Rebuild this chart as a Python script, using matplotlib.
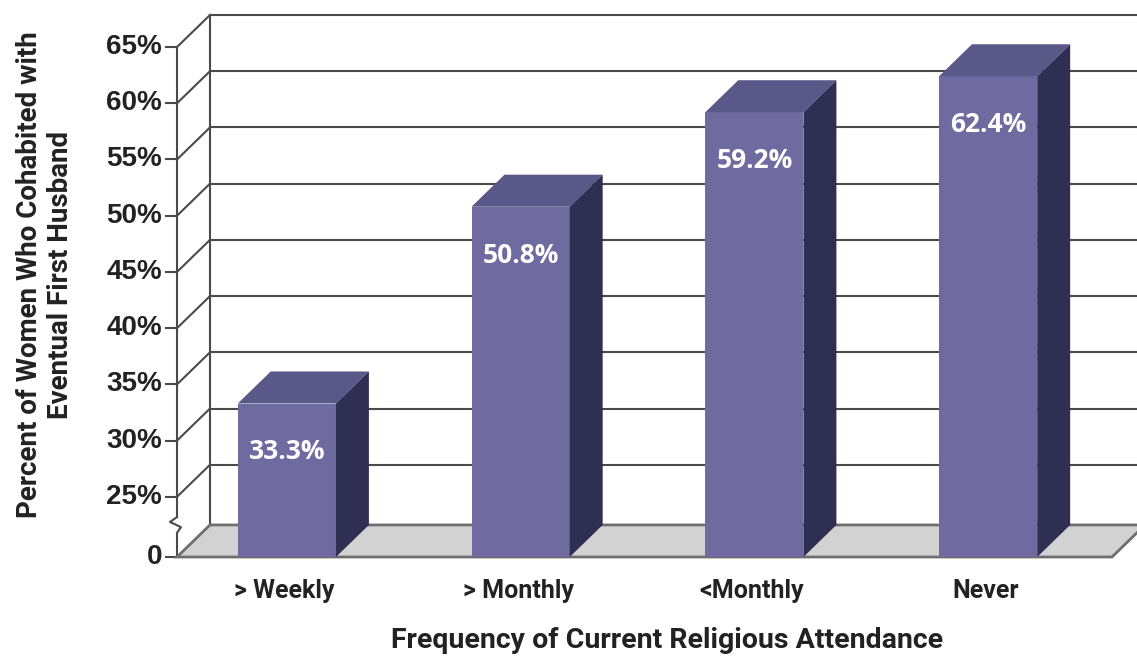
import matplotlib
matplotlib.use("Agg")
import matplotlib.pyplot as plt
from matplotlib.patches import Polygon

## data
categories = ["> Weekly", "> Monthly", "<Monthly", "Never"]
values = [33.3, 50.8, 59.2, 62.4]
tick_values = [25, 30, 35, 40, 45, 50, 55, 60, 65]
tick_labels = ["25%", "30%", "35%", "40%", "45%", "50%", "55%", "60%", "65%"]

## look of the fake 3d box
FLOOR = 19.65      # where the broken axis puts "0"
DX, DY = 0.141, 2.85   # depth offset (category units, percent units)
BAR_W = 0.42
FRONT = "#6f6aa0"
TOP = "#5a5888"
SIDE = "#2e2f52"
GRID = "#4a4a4a"
FLOOR_C = "#d2d2d2"

W, H = 1137, 657
fig = plt.figure(figsize=(W / 100, H / 100), dpi=100)
fig.patch.set_facecolor("white")
# axes box placed so that x=-0.5 sits on the front axis line
ax = fig.add_axes([177 / W, (H - 557) / H, 960 / W, 542 / H])
ax.set_xlim(-0.5, -0.5 + 960 / 233.75)
ax.set_ylim(FLOOR, 67.85)
ax.axis("off")

n = len(categories)
x0, x1 = -0.5, n - 0.5

# floor
floor = Polygon([(x0, FLOOR), (x1, FLOOR), (x1 + DX, FLOOR + DY), (x0 + DX, FLOOR + DY)],
                closed=True, facecolor=FLOOR_C, edgecolor="#6e6e6e", lw=2, zorder=1, clip_on=False)
ax.add_patch(floor)

# back wall grid + left side wall diagonals
for v in tick_values:
    ax.plot([x0 + DX, x1 + DX + 0.2], [v + DY, v + DY], color=GRID, lw=1.5, zorder=0.5, clip_on=False)
    ax.plot([x0, x0 + DX], [v, v + DY], color=GRID, lw=1.5, zorder=0.5, clip_on=False)
    ax.plot([x0 - 0.047, x0], [v, v], color=GRID, lw=1.5, zorder=0.5, clip_on=False)
ax.plot([x0 + DX, x0 + DX], [FLOOR + DY, tick_values[-1] + DY], color=GRID, lw=1.5, zorder=0.5, clip_on=False)
ax.plot([x0 - 0.047, x0], [FLOOR, FLOOR], color=GRID, lw=1.5, zorder=0.5, clip_on=False)

# front axis with the break zigzag
ax.plot([x0, x0], [tick_values[-1], 23.2], color=GRID, lw=1.5, zorder=0.5, clip_on=False)
ax.plot([x0, x0 - 0.03, x0 + 0.017, x0, x0], [23.2, 22.77, 22.3, 21.8, FLOOR],
        color=GRID, lw=1.5, zorder=0.5, clip_on=False)

# bars
for i, v in enumerate(values):
    c = i - 0.03
    l, r = c - BAR_W / 2, c + BAR_W / 2
    ax.add_patch(Polygon([(l, FLOOR), (r, FLOOR), (r, v), (l, v)],
                         facecolor=FRONT, edgecolor="none", zorder=3))
    ax.add_patch(Polygon([(l, v), (r, v), (r + DX, v + DY), (l + DX, v + DY)],
                         facecolor=TOP, edgecolor="none", zorder=3))
    ax.add_patch(Polygon([(r, FLOOR), (r + DX, FLOOR + DY), (r + DX, v + DY), (r, v)],
                         facecolor=SIDE, edgecolor="none", zorder=3, clip_on=False))
    ax.text(c, v - 4.3, f"{v:.1f}%", color="white", fontsize=19, fontweight="bold",
            family="Open Sans", ha="center", va="center", zorder=4)

# y tick labels
for v, lab in zip(tick_values, tick_labels):
    ax.text(x0 - 0.064, v, lab, ha="right", va="center", fontsize=20, fontweight="bold",
            family="Liberation Sans", color="#222222", clip_on=False)
ax.text(x0 - 0.064, FLOOR, "0", ha="right", va="center", fontsize=20, fontweight="bold",
        family="Liberation Sans", color="#222222", clip_on=False)

# category labels
narrow = ["Liberation Sans Narrow", "Roboto", "DejaVu Sans"]
for i, lab in enumerate(categories):
    ax.text(i - 0.04, FLOOR - 3.0, lab, ha="center", va="center", fontsize=18,
            fontweight="bold", family=narrow, color="#222222", clip_on=False)

fig.text(667 / W, 1 - 640 / H, "Frequency of Current Religious Attendance", ha="center",
         va="center", fontsize=20.5, fontweight="bold", family=narrow, color="#222222")
fig.text(45 / W, 1 - 275 / H, "Percent of Women Who Cohabited with\nEventual First Husband",
         ha="center", va="center", rotation=90, fontsize=20, fontweight="bold",
         family=narrow, color="#222222", linespacing=1.15)

fig.savefig("out.png", dpi=100, facecolor="white")
